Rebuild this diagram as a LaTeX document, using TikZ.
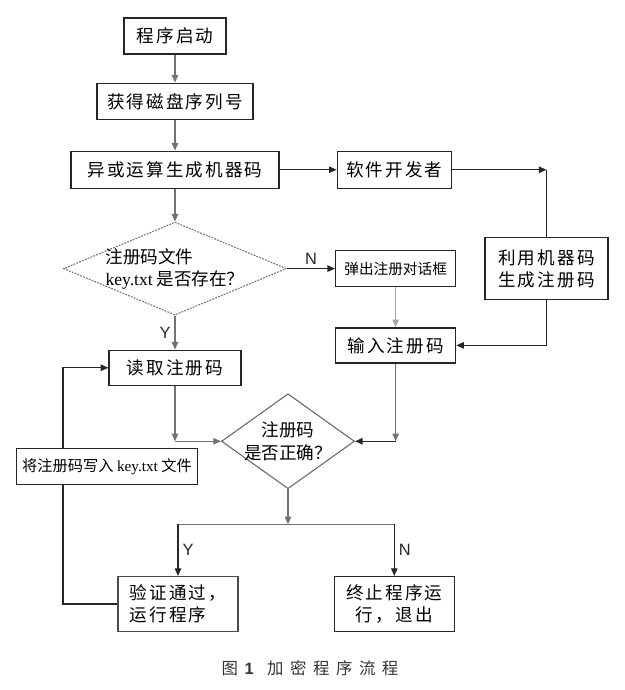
\documentclass[tikz,border=0pt]{standalone}
\usepackage{fontspec}
\setmainfont{Liberation Serif}
\setsansfont{Liberation Sans}
\newfontfamily\cjk[LetterSpace=12]{Noto Sans CJK SC}
\newfontfamily\cjkn{Noto Sans CJK SC}
\newfontfamily\cjkw[LetterSpace=40]{Noto Sans CJK SC}
\usetikzlibrary{arrows.meta,positioning,calc,shapes.geometric}

\tikzset{
  box/.style={draw=black!85,line width=1.1pt,minimum height=1.08cm,inner sep=2pt},
  smallbox/.style={box,font=\cjkn\fontsize{12.5}{15}\selectfont},
  dec/.style={shape=diamond,inner sep=0pt},
  dk/.style={draw=black!85,line width=1.1pt},
  lin/.style={draw=black!55,line width=1pt},
  yn/.style={font=\sffamily\fontsize{14}{16}\selectfont,text=black!85}
}

\begin{document}
\begin{tikzpicture}[font=\cjk\fontsize{15}{19}\selectfont,>={Triangle[length=6.5pt,width=5.5pt]}]
  \useasboundingbox (0,0) rectangle (18.72,-20.7);
  % main column
  \node[box,minimum width=3.06cm] (start) at (5.25,-1.08) {程序启动};
  \node[box,minimum width=4.68cm,below=0.84cm of start] (disk) {获得磁盘序列号};
  \node[box,minimum width=6.24cm,minimum height=1.11cm,below=0.92cm of disk] (xor) {异或运算生成机器码};
  \node[box,minimum width=3.42cm,minimum height=1.11cm,right=1.71cm of xor] (dev) {软件开发者};
  \node[dec,draw=black!55,line width=0.9pt,dash pattern=on 1.6pt off 1pt,minimum width=6.69cm,minimum height=2.79cm,below=0.98cm of xor,
    label={[align=left,font=\cjkn\fontsize{15}{19}\selectfont]center:注册码文件\\{\rmfamily key.txt} 是否存在？}] (ask) {};
  \node[smallbox,minimum width=3.6cm,right=1.44cm of ask] (popup) {弹出注册对话框};
  \node[box,minimum width=3.69cm,minimum height=1.86cm,align=left,right=0.84cm of popup] (use) {利用机器码\\生成注册码};
  \node[box,minimum width=3.6cm,minimum height=1.05cm,below=1.2cm of popup] (input) {输入注册码};
  \node[box,minimum width=3.96cm,minimum height=1.05cm,below=1.02cm of ask] (read) {读取注册码};
  \node[dec,draw=black!60,line width=0.9pt,minimum width=3.99cm,minimum height=2.85cm,below=0.22cm of read,xshift=3.39cm,
    label={[align=center,font=\cjkn\fontsize{15}{19}\selectfont]center:注册码\\是否正确？}] (check) {};
  \node[box,font=\cjkn\fontsize{13}{15}\selectfont,minimum width=5.43cm,below=1.86cm of read,xshift=-2.04cm] (write) {将注册码写入 {\rmfamily key.txt} 文件};
  \node[box,draw=black!70,minimum width=3.6cm,minimum height=1.65cm,align=left,below=2.6cm of check,xshift=-3.3cm] (ok) {验证通过，\\运行程序};
  \node[box,minimum width=3.6cm,minimum height=1.65cm,align=center,right=2.85cm of ok] (stop) {终止程序运\\行，退出};
  \node[text=black!80] (cap) at (9.3,-20.04) {{\cjkw\fontsize{14}{16}\selectfont 图}\hspace{0.2cm}{\sffamily\bfseries\fontsize{14}{16}\selectfont 1}\hspace{0.4cm}{\cjkw\fontsize{14}{16}\selectfont 加密程序流程}};

  % connectors
  \draw[lin,->] (start) -- (disk);
  \draw[lin,->] (disk) -- (xor);
  \draw[lin,->] (xor) -- (ask);
  \draw[dk,->] (xor) -- (dev);
  \coordinate (turn) at (use.north |- dev.east);
  \draw[dk,->] (dev) -- (turn);
  \draw[dk] (turn) -- (use.north);
  \draw[dk,->] (use.south) |- (input.east);
  \draw[dk,->] (ask.east) -- node[yn,above]{N} (popup.west);
  \draw[draw=black!35,line width=0.8pt,->] (popup) -- (input);
  \draw[lin,->] (ask.south) -- node[yn,left]{Y} (read.north);
  \coordinate (lc) at (read.south |- check.west);
  \draw[lin,->] (read) -- (lc);
  \draw[lin,->] (lc) -- (check.west);
  \coordinate (rc) at (input.south |- check.east);
  \draw[lin,->] (input) -- (rc);
  \draw[dk,->] (rc) -- (check.east);
  \coordinate[below=1.05cm of check.south] (br);
  \draw[lin,->] (check.south) -- (br);
  \draw[lin] (br -| ok.north) -- (br -| stop.north);
  \draw[dk,->] (br -| ok.north) -- node[yn,right]{Y} (ok);
  \draw[dk,->] (br -| stop.north) -- node[yn,right]{N} (stop);
  \draw[dk] (ok.west) -| ([xshift=-1.32cm]write.south);
  \draw[dk,->] ([xshift=-1.32cm]write.north) |- (read.west);
\end{tikzpicture}
\end{document}
